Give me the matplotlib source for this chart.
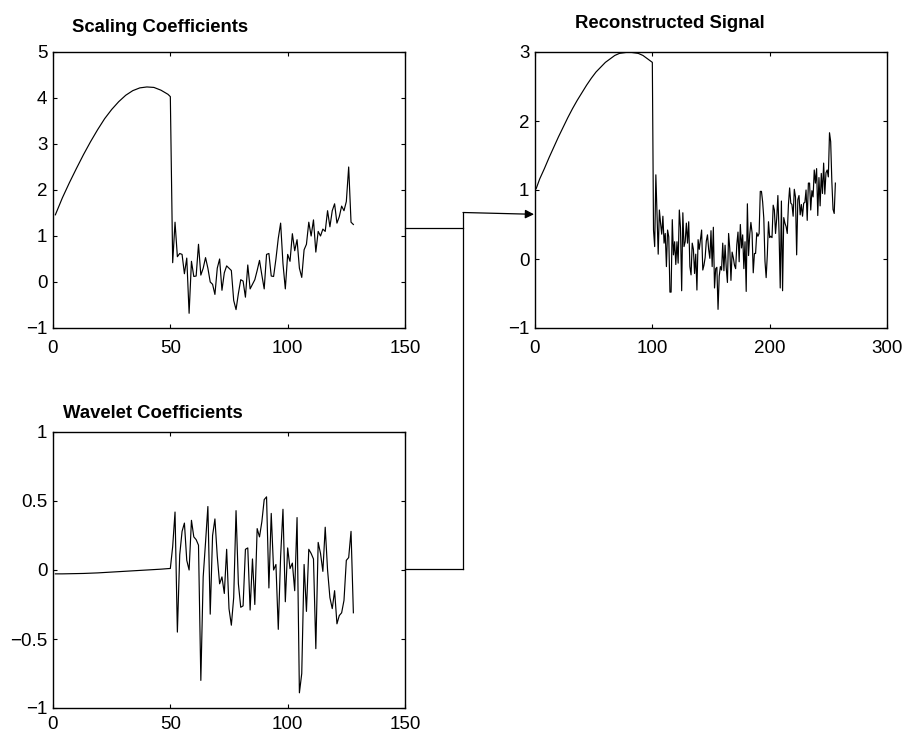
import numpy as np
import matplotlib
matplotlib.use("Agg")
import matplotlib.pyplot as plt
from matplotlib.lines import Line2D
from matplotlib.patches import FancyArrowPatch

plt.rcParams['font.family'] = ['Liberation Sans', 'DejaVu Sans']

# smooth first part of the coefficients, sampled every 3 points
smooth_idx = [1, 4, 7, 10, 13, 16, 19, 22, 25, 28, 31, 34, 37, 40, 43, 46, 49, 50]
scaling_smooth = [1.46, 1.83, 2.16, 2.47, 2.77, 3.05, 3.31, 3.55, 3.75, 3.92,
                  4.06, 4.16, 4.22, 4.24, 4.23, 4.17, 4.08, 4.03]
wavelet_smooth = [-0.028, -0.028, -0.027, -0.026, -0.025, -0.023, -0.021, -0.018,
                  -0.015, -0.012, -0.009, -0.006, -0.003, 0.0, 0.003, 0.006,
                  0.010, 0.011]

# noisy part, points 51..128
scaling_noisy = [0.42, 1.30, 0.55, 0.62, 0.60, 0.18, 0.52, -0.68, 0.45, 0.12,
                 0.13, 0.82, 0.15, 0.30, 0.53, 0.30, 0.00, -0.05, -0.27, 0.30,
                 0.50, -0.18, 0.20, 0.35, 0.30, 0.25, -0.40, -0.60, -0.25, 0.05,
                 0.02, -0.33, 0.37, -0.15, -0.05, 0.05, 0.25, 0.47, 0.15, -0.15,
                 0.60, 0.62, 0.13, 0.12, 0.50, 0.95, 1.28, 0.40, -0.15, 0.60,
                 0.45, 1.05, 0.68, 0.92, 0.30, 0.10, 0.70, 0.82, 1.30, 1.00,
                 1.35, 0.65, 1.10, 1.00, 1.15, 1.10, 1.55, 1.20, 1.55, 1.70,
                 1.28, 1.42, 1.65, 1.55, 1.75, 2.50, 1.30, 1.25]
wavelet_noisy = [0.17, 0.42, -0.45, 0.11, 0.28, 0.34, 0.07, 0.00, 0.36, 0.24,
                 0.22, 0.18, -0.80, -0.05, 0.20, 0.46, -0.32, 0.25, 0.37, 0.10,
                 -0.10, -0.05, -0.17, 0.15, -0.28, -0.40, -0.20, 0.43, -0.10, -0.27,
                 -0.26, 0.15, 0.16, -0.29, 0.08, -0.25, 0.30, 0.24, 0.35, 0.51,
                 0.53, -0.13, 0.41, 0.00, 0.04, -0.43, 0.10, 0.44, -0.23, 0.16,
                 0.01, 0.05, -0.15, 0.38, -0.89, -0.75, 0.04, -0.30, 0.15, 0.12,
                 0.08, -0.57, 0.20, 0.12, -0.01, 0.31, 0.00, -0.20, -0.28, -0.15,
                 -0.39, -0.33, -0.31, -0.22, 0.07, 0.09, 0.28, -0.31]

# reconstructed signal: smooth part 1..100, noisy part 101..256
recon_smooth_idx = [1, 4, 8, 12, 16, 20, 24, 28, 32, 36, 40, 44, 48, 52,
                    56, 60, 64, 68, 72, 76, 80, 84, 88, 92, 96, 100]
recon_smooth = [1.02, 1.16, 1.31, 1.47, 1.62, 1.77, 1.91, 2.05, 2.18, 2.30,
                2.41, 2.52, 2.62, 2.71, 2.78, 2.85, 2.90, 2.95, 2.98, 2.99,
                3.00, 2.99, 2.98, 2.95, 2.90, 2.85]
recon_noisy = [0.42, 0.18, 1.22, 0.62, 0.07, 0.71, 0.52, 0.36, 0.62, 0.23,
               0.37, -0.11, 0.42, 0.32, -0.48, -0.48, 0.57, 0.06, 0.25, -0.08,
               0.25, -0.06, 0.71, 0.45, -0.46, 0.67, 0.18, 0.25, 0.52, 0.23,
               0.54, -0.11, -0.23, 0.23, 0.14, -0.21, 0.07, -0.45, 0.28, 0.14,
               0.28, 0.42, -0.16, -0.09, 0.02, 0.26, 0.35, 0.14, 0.01, 0.41,
               -0.11, 0.46, -0.42, -0.14, -0.12, -0.73, -0.25, -0.11, -0.16, 0.23,
               -0.17, 0.20, -0.13, -0.34, 0.37, 0.15, -0.31, 0.10, 0.02, -0.09,
               -0.14, 0.21, 0.39, -0.04, 0.50, 0.16, 0.35, -0.14, 0.25, -0.47,
               0.80, 0.05, 0.35, 0.53, 0.38, -0.20, 0.08, 0.08, 0.38, 0.33,
               0.37, 0.98, 0.98, 0.83, 0.59, -0.03, -0.27, 0.06, 0.54, 0.31,
               0.33, 0.31, 0.78, 0.71, 0.37, 0.59, 0.92, 0.38, -0.42, 0.84,
               -0.46, 0.60, 0.52, 0.47, 0.37, 0.79, 1.03, 0.81, 0.79, 0.62,
               1.01, 0.90, 0.06, 0.86, 0.92, 0.64, 0.79, 0.62, 0.81, 0.82,
               1.00, 0.56, 1.10, 1.10, 0.71, 0.99, 0.90, 1.29, 1.10, 1.31,
               0.63, 1.18, 0.77, 1.24, 0.95, 1.39, 0.94, 1.25, 1.29, 1.19,
               1.83, 1.70, 1.12, 0.72, 0.66, 1.10]

coef_x = smooth_idx + list(range(51, 51 + len(scaling_noisy)))
recon_x = recon_smooth_idx + list(range(101, 101 + len(recon_noisy)))

W, H = 904, 733
fig = plt.figure(figsize=(W / 100, H / 100), dpi=100)


def px_box(left, top, right, bottom):
    return [left / W, 1 - bottom / H, (right - left) / W, (bottom - top) / H]


def style(ax, xlim, xticks, ylim, yticks, xpad=8.5):
    ax.set_xlim(*xlim)
    ax.set_ylim(*ylim)
    ax.set_xticks(xticks)
    ax.set_yticks(yticks)
    ax.tick_params(direction='in', length=3, width=0.8, top=True, right=True,
                   labelsize=13.5)
    ax.tick_params(axis='x', pad=xpad)
    ax.tick_params(axis='y', pad=4)
    for s in ax.spines.values():
        s.set_linewidth(1.0)


ax1 = fig.add_axes(px_box(53, 52, 405, 328))
ax1.plot(coef_x, scaling_smooth + scaling_noisy, color='black', lw=0.85)
style(ax1, (0, 150), [0, 50, 100, 150], (-1, 5), [-1, 0, 1, 2, 3, 4, 5])

ax2 = fig.add_axes(px_box(53, 432, 405, 708))
ax2.plot(coef_x, wavelet_smooth + wavelet_noisy, color='black', lw=0.85)
style(ax2, (0, 150), [0, 50, 100, 150], (-1, 1), [-1, -0.5, 0, 0.5, 1],
      xpad=6)
ax2.set_yticklabels(['\u22121', '\u22120.5', '0', '0.5', '1'])

ax3 = fig.add_axes(px_box(535, 52, 887, 328))
ax3.plot(recon_x, recon_smooth + recon_noisy, color='black', lw=0.85)
style(ax3, (0, 300), [0, 100, 200, 300], (-1, 3), [-1, 0, 1, 2, 3])

# titles
fig.text(72 / W, 1 - 27 / H, 'Scaling Coefficients', fontsize=13.3,
         fontweight='bold', va='center', ha='left')
fig.text(575 / W, 1 - 23 / H, 'Reconstructed Signal', fontsize=13.3,
         fontweight='bold', va='center', ha='left')
fig.text(63 / W, 1 - 413 / H, 'Wavelet Coefficients', fontsize=13.3,
         fontweight='bold', va='center', ha='left')


# connector lines between the panels
def fline(xs, ys):
    fig.add_artist(Line2D([x / W for x in xs], [1 - y / H for y in ys],
                          color='black', lw=0.9, transform=fig.transFigure))


fline([405, 463], [227.7, 227.7])
fline([405, 463], [569, 569])
fline([463, 463], [212.5, 569])
fig.add_artist(FancyArrowPatch(
    (463 / W, 1 - 212.5 / H), (534 / W, 1 - 214.3 / H),
    transform=fig.transFigure, arrowstyle='-|>', mutation_scale=13,
    color='black', lw=0.9, shrinkA=0, shrinkB=0))

fig.savefig('out.png', dpi=100)
